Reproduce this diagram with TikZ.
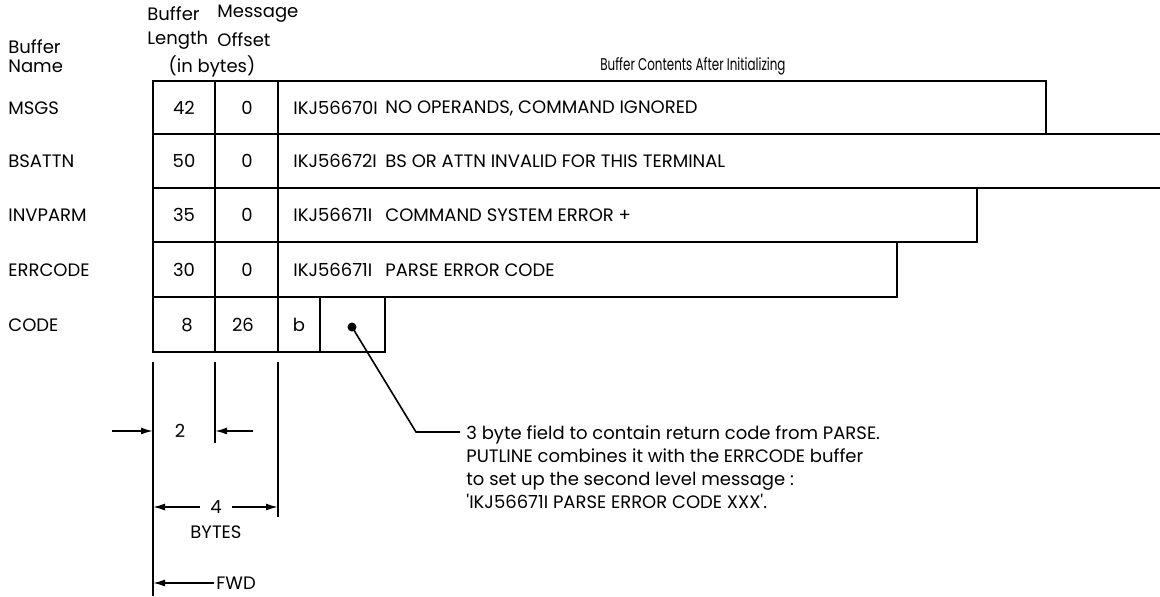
\documentclass[tikz,border=0pt]{standalone}
\usepackage{fontspec}
\setmainfont{Poppins}
\usetikzlibrary{arrows.meta, positioning}

\begin{document}
\begin{tikzpicture}[
    x=0.5pt, y=-0.5pt,
    grid/.style={line width=1.2pt},
    txt/.style={inner sep=0pt, font=\fontsize{9}{11.5}\selectfont},
    lbl/.style={txt, anchor=west},
    thin/.style={line width=0.8pt},
    dim/.style={-{Latex[length=6pt, width=3.5pt]}, line width=0.8pt}
    ]
    \useasboundingbox (0,0) rectangle (1160,596);
    % column headings
    \node[lbl] (hd-buf)  at (8,47)   {Buffer};
    \node[lbl] (hd-name) at (8,66)   {Name};
    \node[lbl] (hd-len1) at (147,14) {Buffer};
    \node[lbl] (hd-len2) at (147,40) {Length};
    \node[lbl] (hd-off1) at (217,14) {Message};
    \node[lbl] (hd-off2) at (217,40) {Offset};
    \node[txt] (hd-bytes) at (212,66) {(in bytes)};
    \node[lbl, font=\fontsize{8.5}{10}\selectfont] (hd-cont) at (600,66)
        {\scalebox{0.7}[1]{Buffer Contents After Initializing}};
    % buffer rows
    \draw[grid] (153,81) rectangle (1046,134);
    \draw[grid] (153,134) -- (1160,134) (153,188) -- (1160,188);
    \draw[grid] (153,188) rectangle (977,242);
    \draw[grid] (153,242) rectangle (897,297);
    \draw[grid] (153,297) rectangle (385,352);
    \draw[grid] (153,81) -- (153,352);
    \foreach \xx in {215,278}
        \draw[grid] (\xx,81) -- (\xx,352);
    \draw[grid] (320,297) -- (320,352);
    % row contents
    \node[lbl] (msgs)    at (8,108) {MSGS};
    \node[txt] (msgs-l)  at (184,108) {42};
    \node[txt] (msgs-o)  at (247,108) {0};
    \node[lbl] (msgs-id) at (293,108) {IKJ56670I};
    \node[lbl] (msgs-t)  at (385,108) {NO OPERANDS, COMMAND IGNORED};
    \node[lbl] (bsattn)    at (8,161) {BSATTN};
    \node[txt] (bsattn-l)  at (184,161) {50};
    \node[txt] (bsattn-o)  at (247,161) {0};
    \node[lbl] (bsattn-id) at (293,161) {IKJ56672I};
    \node[lbl] (bsattn-t)  at (385,161) {BS OR ATTN INVALID FOR THIS TERMINAL};
    \node[lbl] (invparm)    at (8,215) {INVPARM};
    \node[txt] (invparm-l)  at (184,215) {35};
    \node[txt] (invparm-o)  at (247,215) {0};
    \node[lbl] (invparm-id) at (293,215) {IKJ56671I};
    \node[lbl] (invparm-t)  at (385,215) {COMMAND SYSTEM ERROR +};
    \node[lbl] (errcode)    at (8,270) {ERRCODE};
    \node[txt] (errcode-l)  at (184,270) {30};
    \node[txt] (errcode-o)  at (247,270) {0};
    \node[lbl] (errcode-id) at (293,270) {IKJ56671I};
    \node[lbl] (errcode-t)  at (385,270) {PARSE ERROR CODE};
    \node[lbl] (code)   at (8,325) {CODE};
    \node[txt] (code-l) at (187,325) {8};
    \node[txt] (code-o) at (243,325) {26};
    \node[txt] (code-b) at (299,325) {b};
    \node[circle, fill, inner sep=0pt, minimum size=4.5pt] (dot) at (352,327) {};
    % field widths
    \draw[thin] (153,362) -- (153,596);
    \draw[thin] (215,362) -- (215,443);
    \draw[thin] (278,362) -- (278,517);
    \node[txt] (two) at (180,431) {2};
    \coordinate (two-l) at (112,431);
    \coordinate (two-r) at (253,431);
    \draw[dim] (two-l) -- (153,431);
    \draw[dim] (two-r) -- (215,431);
    \node[txt] (four) at (216,507) {4};
    \draw[dim] ([xshift=-5pt]four.west) -- (153,507);
    \draw[dim] ([xshift=5pt]four.east) -- (278,507);
    \node[txt] (bytes) at (216,532) {BYTES};
    \node[lbl] (fwd) at (216,583) {FWD};
    \draw[dim] ([xshift=-1pt]fwd.west) -- (153,583);
    % note on the code field
    \node[lbl, align=left] (note) at (466,467)
        {3 byte field to contain return code from PARSE.\\
         PUTLINE combines it with the ERRCODE buffer\\
         to set up the second level message :\\
         \textquotesingle IKJ56671I PARSE ERROR CODE XXX\textquotesingle.};
    \coordinate (bend) at (416,432);
    \coordinate (note-in) at (460,432);
    \draw[thin] (dot.center) -- (bend) -- (note-in);
\end{tikzpicture}
\end{document}
